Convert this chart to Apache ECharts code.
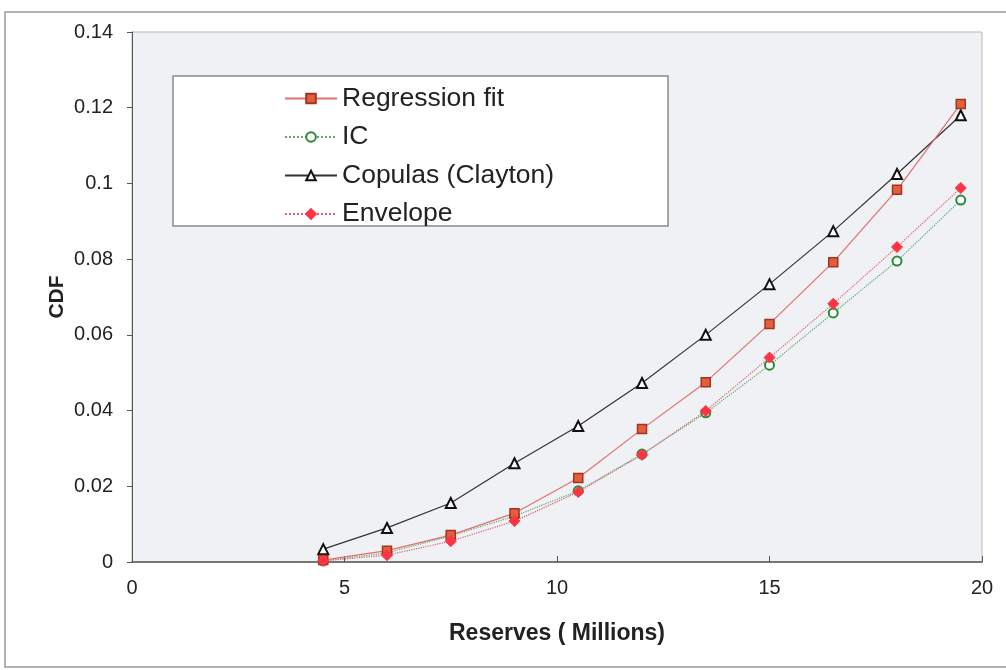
<!DOCTYPE html>
<html><head><meta charset="utf-8">
<script src="https://cdn.jsdelivr.net/npm/echarts@6/dist/echarts.min.js"></script>
<style>html,body{margin:0;padding:0;background:#fff}#c{width:1006px;height:670px}</style>
</head><body><div id="c"></div>
<script>
var xValues = [4.5, 6, 7.5, 9, 10.5, 12, 13.5, 15, 16.5, 18, 19.5];
var regressionFit = [0.0005, 0.003, 0.0071, 0.0129, 0.0222, 0.0351, 0.0475, 0.0629, 0.0792, 0.0983, 0.121];
var icValues = [0.0003, 0.0024, 0.0069, 0.0121, 0.0188, 0.0285, 0.0394, 0.052, 0.0658, 0.0795, 0.0956];
var copulasClayton = [0.0034, 0.009, 0.0156, 0.0261, 0.0359, 0.0473, 0.060, 0.0734, 0.0874, 0.1025, 0.118];
var envelopeValues = [0.0003, 0.0018, 0.0055, 0.0108, 0.0185, 0.0283, 0.0399, 0.054, 0.0682, 0.0832, 0.0988];
var seriesNames = ['Regression fit', 'IC', 'Copulas (Clayton)', 'Envelope'];

function pairs(ys){ return xValues.map(function(x,i){ return [x, ys[i]]; }); }

var chart = echarts.init(document.getElementById('c'));
var font = 'Liberation Sans, Arial, sans-serif';
chart.setOption({
  backgroundColor: '#fff',
  animation: false,
  graphic: [
    {type:'rect', z:0, shape:{x:5, y:12, width:1010, height:655}, style:{fill:'none', stroke:'#9a9a9a', lineWidth:1.5}},
    {type:'rect', z:100, shape:{x:173, y:76, width:495, height:150}, style:{fill:'#fff', stroke:'#8a8a8a', lineWidth:1.5}}
  ],
  grid: {left:132, top:32, right:24, bottom:108, show:true, backgroundColor:'#eff1f4', borderColor:'#b8b8b8', borderWidth:1},
  legend: {
    data: seriesNames, orient:'vertical', left:279, top:80, z:200,
    itemWidth:52, itemHeight:12, itemGap:11.5,
    textStyle:{fontFamily:font, fontSize:26.5, color:'#222'}
  },
  xAxis: {
    type:'value', min:0, max:20, interval:5,
    name:'Reserves ( Millions)', nameLocation:'middle', nameGap:60, nameMoveOverlap:false,
    nameTextStyle:{fontFamily:font, fontSize:23, fontWeight:'bold', color:'#222'},
    axisLine:{lineStyle:{color:'#555', width:1.5}},
    axisTick:{show:true, inside:true, length:6, lineStyle:{color:'#555'}},
    axisLabel:{fontFamily:font, fontSize:20, color:'#222', margin:16},
    splitLine:{show:false}
  },
  yAxis: {
    type:'value', min:0, max:0.14, interval:0.02,
    name:'CDF', nameLocation:'middle', nameGap:64, nameRotate:90, nameMoveOverlap:false,
    nameTextStyle:{fontFamily:font, fontSize:21, fontWeight:'bold', color:'#222'},
    axisLine:{show:true, lineStyle:{color:'#555', width:1}},
    axisTick:{show:true, length:5, lineStyle:{color:'#555'}},
    axisLabel:{fontFamily:font, fontSize:20, color:'#222', margin:19,
      formatter:function(v){ return String(+v.toFixed(2)); }},
    splitLine:{show:false}
  },
  series: [
    {name:seriesNames[0], type:'line', data:pairs(regressionFit), symbol:'rect', symbolSize:9,
     itemStyle:{color:'#e0603e', borderColor:'#a8321e', borderWidth:1.5},
     lineStyle:{color:'#e07070', width:1.2}, z:3},
    {name:seriesNames[1], type:'line', data:pairs(icValues), symbol:'emptyCircle', symbolSize:9,
     itemStyle:{color:'#2a8a3a', borderColor:'#2a8a3a', borderWidth:2},
     lineStyle:{color:'#5aa870', width:1.2, type:'dotted'}, z:2},
    {name:seriesNames[2], type:'line', data:pairs(copulasClayton), symbol:'emptyTriangle', symbolSize:10,
     itemStyle:{color:'#111', borderColor:'#111', borderWidth:2},
     lineStyle:{color:'#333', width:1.2}, z:2},
    {name:seriesNames[3], type:'line', data:pairs(envelopeValues), symbol:'diamond', symbolSize:11,
     itemStyle:{color:'#ff3344', borderColor:'#ff3344', borderWidth:1},
     lineStyle:{color:'#e06070', width:1.2, type:'dotted'}, z:4}
  ]
});
</script></body></html>
